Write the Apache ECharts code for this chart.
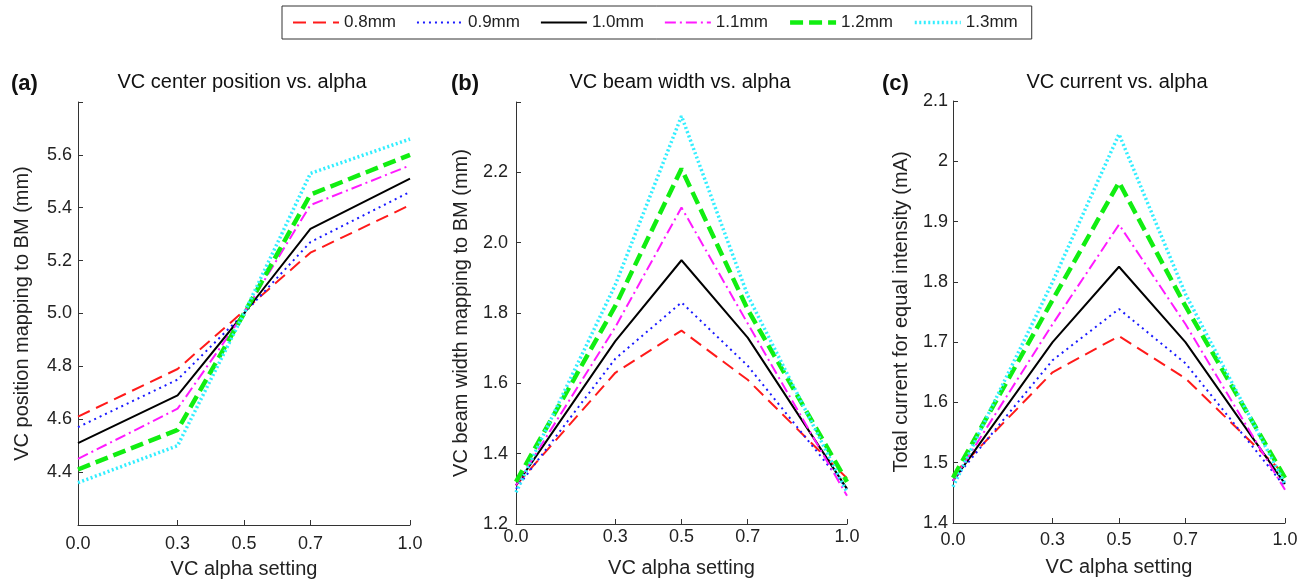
<!DOCTYPE html>
<html>
<head>
<meta charset="utf-8">
<title>VC vs alpha</title>
<script src="https://cdn.jsdelivr.net/npm/echarts@6/dist/echarts.min.js"></script>
<style>
html, body { margin: 0; padding: 0; background: #fff; }
#main { width: 1309px; height: 585px; }
</style>
</head>
<body>
<div id="main"></div>
<script>
// alpha settings (x) and tick labels
var alphaValues = [0, 0.3, 0.5, 0.7, 1.0];
var alphaTicks = [0, 0.3, 0.5, 0.7, 1.0];
var electrodeNames = ['0.8mm', '0.9mm', '1.0mm', '1.1mm', '1.2mm', '1.3mm'];

// (a) VC center position (mm)
var posA08 = [4.61, 4.79, 5.01, 5.23, 5.41];
var posA09 = [4.57, 4.75, 5.00, 5.27, 5.46];
var posA10 = [4.51, 4.69, 5.00, 5.32, 5.51];
var posA11 = [4.45, 4.64, 5.00, 5.41, 5.56];
var posA12 = [4.41, 4.56, 5.00, 5.45, 5.60];
var posA13 = [4.36, 4.50, 5.00, 5.53, 5.66];

// (b) VC beam width (mm)
var widthB08 = [1.31, 1.63, 1.75, 1.61, 1.33];
var widthB09 = [1.30, 1.67, 1.83, 1.65, 1.30];
var widthB10 = [1.31, 1.72, 1.95, 1.73, 1.30];
var widthB11 = [1.31, 1.76, 2.10, 1.77, 1.28];
var widthB12 = [1.32, 1.82, 2.21, 1.81, 1.32];
var widthB13 = [1.29, 1.88, 2.36, 1.85, 1.29];

// (c) total current (mA)
var currC08 = [1.48, 1.65, 1.71, 1.64, 1.48];
var currC09 = [1.47, 1.67, 1.755, 1.665, 1.46];
var currC10 = [1.47, 1.70, 1.825, 1.70, 1.465];
var currC11 = [1.47, 1.73, 1.895, 1.73, 1.455];
var currC12 = [1.475, 1.77, 1.965, 1.76, 1.475];
var currC13 = [1.46, 1.80, 2.045, 1.78, 1.465];

var panelData = [
    [posA08, posA09, posA10, posA11, posA12, posA13],
    [widthB08, widthB09, widthB10, widthB11, widthB12, widthB13],
    [currC08, currC09, currC10, currC11, currC12, currC13]
];

var FONT = 'Liberation Sans, Arial, sans-serif';
var TXT = '#222';

var lineStyles = [
    { color: '#ff1a1a', width: 2, type: [13, 7] },
    { color: '#1a1aff', width: 2, type: [2, 4] },
    { color: '#000000', width: 2, type: 'solid' },
    { color: '#ff1aff', width: 2, type: [11, 4, 2, 4] },
    { color: '#11ee11', width: 4.5, type: [13, 6] },
    { color: '#33eeff', width: 3.5, type: [2, 2.5] }
];

var chart = echarts.init(document.getElementById('main'));

function toPoints(ys) {
    var pts = [];
    for (var i = 0; i < alphaValues.length; i++) {
        pts.push([alphaValues[i], ys[i]]);
    }
    return pts;
}

var grids = [
    { left: 78, top: 102, width: 332, height: 423 },
    { left: 516, top: 102, width: 331, height: 422 },
    { left: 953, top: 101, width: 332, height: 422 }
];

var xMargins = [10, 4, 8];
var xAxes = [];
for (var g = 0; g < 3; g++) {
    xAxes.push({
        type: 'value',
        gridIndex: g,
        min: 0,
        max: 1,
        name: 'VC alpha setting',
        nameLocation: 'middle',
        nameGap: 34,
        nameTextStyle: { fontFamily: FONT, fontSize: 20, color: TXT },
        splitLine: { show: false },
        axisLine: { lineStyle: { color: '#333', width: 1 } },
        axisTick: { inside: true, length: 5, customValues: alphaTicks, lineStyle: { color: '#333' } },
        axisLabel: {
            customValues: alphaTicks,
            margin: xMargins[g],
            fontFamily: FONT, fontSize: 18, color: TXT,
            formatter: function (v) { return v.toFixed(1); }
        }
    });
}

function yAxis(g, min, max, interval, name, gap, margin, fmt) {
    return {
        type: 'value',
        gridIndex: g,
        min: min, max: max, interval: interval,
        name: name,
        nameLocation: 'middle',
        nameGap: gap,
        nameTextStyle: { fontFamily: FONT, fontSize: 20, color: TXT },
        splitLine: { show: false },
        axisLine: { show: true, lineStyle: { color: '#333', width: 1 } },
        axisTick: { show: true, inside: true, length: 5, lineStyle: { color: '#333' } },
        axisLabel: { margin: margin, fontFamily: FONT, fontSize: 18, color: TXT, formatter: fmt }
    };
}

var yAxes = [
    yAxis(0, 4.2, 5.8, 0.2, 'VC position mapping to BM (mm)', 46, 6, function (v) {
        return (v < 4.3 || v > 5.7) ? '' : v.toFixed(1);
    }),
    yAxis(1, 1.2, 2.4, 0.2, 'VC beam width mapping to BM (mm)', 45, 8, function (v) {
        return v > 2.3 ? '' : v.toFixed(1);
    }),
    yAxis(2, 1.4, 2.1, 0.1, 'Total current for equal intensity (mA)', 42, 5, function (v) {
        return String(parseFloat(v.toFixed(1)));
    })
];

var series = [];
for (var p = 0; p < 3; p++) {
    for (var s = 0; s < electrodeNames.length; s++) {
        series.push({
            name: electrodeNames[s],
            type: 'line',
            xAxisIndex: p,
            yAxisIndex: p,
            symbol: 'none',
            animation: false,
            itemStyle: { color: lineStyles[s].color },
            lineStyle: lineStyles[s],
            data: toPoints(panelData[p][s])
        });
    }
}

function label(x, y, text, size, bold) {
    return {
        type: 'text', x: x, y: y,
        style: {
            text: text, fill: '#111', fontFamily: FONT, fontSize: size,
            fontWeight: bold ? 'bold' : 'normal',
            textAlign: bold ? 'left' : 'center', textVerticalAlign: 'middle'
        }
    };
}

var option = {
    backgroundColor: '#fff',
    animation: false,
    legend: {
        data: electrodeNames,
        left: 282,
        top: 6,
        padding: [8, 14, 8, 10],
        itemWidth: 46,
        itemHeight: 14,
        itemGap: 20,
        borderColor: '#333',
        borderWidth: 1,
        itemStyle: { opacity: 0 },
        lineStyle: { width: 'inherit' },
        textStyle: { fontFamily: FONT, fontSize: 17, color: TXT }
    },
    grid: grids,
    xAxis: xAxes,
    yAxis: yAxes,
    series: series,
    graphic: [
        label(11, 84, '(a)', 22, true),
        label(242, 82, 'VC center position vs. alpha', 20, false),
        label(451, 84, '(b)', 22, true),
        label(680, 82, 'VC beam width vs. alpha', 20, false),
        label(882, 84, '(c)', 22, true),
        label(1117, 82, 'VC current vs. alpha', 20, false)
    ]
};

chart.setOption(option);
</script>
</body>
</html>
